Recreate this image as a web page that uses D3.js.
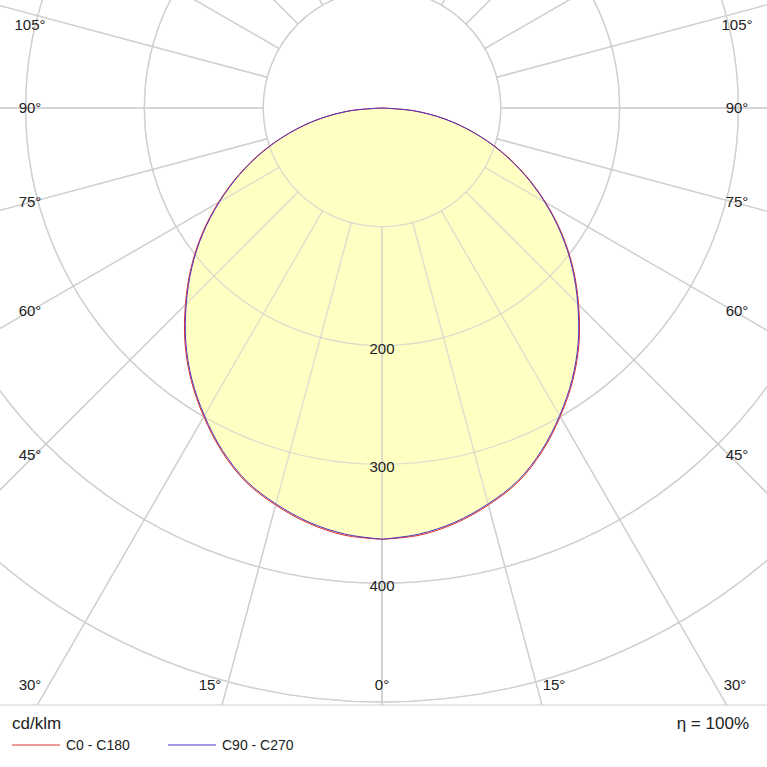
<!DOCTYPE html><html><head><meta charset="utf-8">
<script src="https://cdn.jsdelivr.net/npm/d3@7"></script>
<style>body{margin:0;background:#fff}text{font-family:Arial,"Liberation Sans",sans-serif}</style></head><body>
<svg id="c" width="767" height="767"></svg>
<script>
const angles=[0,5,10,15,20,25,30,35,40,45,50,55,60,65,70,75,80,85,90];
const c0c180=[363,361,355,346,335,319,300,280,258,234,210,185,159,133,107,80,54,27,0];
const c90c270=[363,360,354,345,334,318,299,279,257,233,209,184,158,132,106,80,54,27,0];
const ringValues=[100,200,300,400,500,600,700,800];
const ringLabels=[200,300,400];
const gridAngles=d3.range(0,181,15);
const leftLabels=[105,90,75,60,45];
const bottomLabels=[30,15,0,15,30];

const svg=d3.select("#c");
const cx=382,cy=108,W=767,H=705;
const r=d3.scaleLinear().domain([0,100]).range([0,118.8]);
const g=svg.append("g");
svg.append("defs").append("clipPath").attr("id","cp").append("rect").attr("width",W).attr("height",H);
const pt=(a,v,s)=>[cx+s*r(v)*Math.sin(a*Math.PI/180),cy+r(v)*Math.cos(a*Math.PI/180)];
function drawGrid(op){const grid=g.append("g").attr("clip-path","url(#cp)");
 ringValues.forEach(v=>grid.append("circle").attr("cx",cx).attr("cy",cy).attr("r",r(v)).attr("fill","none").attr("stroke","#d0d0d0").attr("stroke-opacity",op).attr("stroke-width",1.3));
 gridAngles.forEach(a=>[-1,1].forEach(s=>{const p0=pt(a,100,s),p1=pt(a,1000,s);
  grid.append("line").attr("x1",p0[0]).attr("y1",p0[1]).attr("x2",p1[0]).attr("y2",p1[1]).attr("stroke","#d0d0d0").attr("stroke-opacity",op).attr("stroke-width",1.3);}));}
drawGrid(1);
function pathFor(vals){const pts=[];angles.forEach((a,i)=>pts.push(pt(a,vals[i],-1)));
 for(let i=angles.length-1;i>=0;i--)pts.push(pt(angles[i],vals[i],1));
 return d3.line().curve(d3.curveCatmullRomClosed)(pts);}
g.append("path").attr("d",pathFor(c0c180)).attr("fill","#ffffc4").attr("stroke","none");
drawGrid(0.75);
g.append("path").attr("d",pathFor(c0c180)).attr("fill","none").attr("stroke","#e03030").attr("stroke-width",1);
g.append("path").attr("d",pathFor(c90c270)).attr("fill","none").attr("stroke","#5030c0").attr("stroke-width",1);
ringLabels.forEach(v=>g.append("text").attr("x",cx).attr("y",cy+r(v)+8).attr("text-anchor","middle").attr("font-size",15).attr("fill","#222").text(v));
leftLabels.forEach(a=>{const th=a*Math.PI/180;const y=cy+352*Math.cos(th)/Math.sin(th);
 [30,737].forEach(x=>g.append("text").attr("x",x).attr("y",y+(a>90?11:a<60?-5:0)+5).attr("text-anchor","middle").attr("font-size",15).attr("fill","#222").text(a+"°"));});
bottomLabels.forEach((a,i)=>{const s=i<2?-1:1;let x=a===30?(s<0?30:735):a===15?cx+s*172:cx;
 g.append("text").attr("x",x).attr("y",690).attr("text-anchor","middle").attr("font-size",15).attr("fill","#222").text(a+"°");});
svg.append("line").attr("x1",0).attr("x2",W).attr("y1",H).attr("y2",H).attr("stroke","#d0d0d0");
svg.append("text").attr("x",12).attr("y",729).attr("font-size",17).attr("fill","#222").text("cd/klm");
svg.append("text").attr("x",749).attr("y",729).attr("text-anchor","end").attr("font-size",17).attr("fill","#222").text("η = 100%");
[["C0 - C180","#e03030",12],["C90 - C270","#5030c0",168]].forEach(([t,col,x])=>{
 svg.append("line").attr("x1",x).attr("x2",x+48).attr("y1",745).attr("y2",745).attr("stroke",col);
 svg.append("text").attr("x",x+54).attr("y",750).attr("font-size",14).attr("fill","#222").text(t);});
</script></body></html>
